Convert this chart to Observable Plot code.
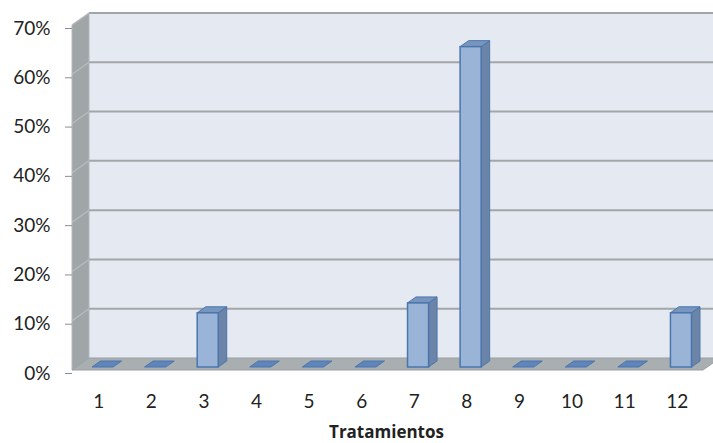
<!DOCTYPE html>
<html>
<head>
<meta charset="utf-8">
<script src="https://cdn.jsdelivr.net/npm/d3@7"></script>
<script src="https://cdn.jsdelivr.net/npm/@observablehq/plot@0.6"></script>
<style>
  html, body { margin: 0; padding: 0; background: #ffffff; }
  #chart { width: 713px; height: 443px; }
</style>
</head>
<body>
<div id="chart"></div>
<script>
// ---- data ----
const categories = [1, 2, 3, 4, 5, 6, 7, 8, 9, 10, 11, 12];
const values = [0, 0, 0.11, 0, 0, 0, 0.13, 0.65, 0, 0, 0, 0.11];
const yTicks = [0, 0.1, 0.2, 0.3, 0.4, 0.5, 0.6, 0.7];
const xLabel = "Tratamientos";

// ---- 3D style parameters ----
const DEPTH = { dx: 17, dy: -12 };   // pixel offset of the back wall
const HALF = 0.2;                     // half bar width (in band units)
const BAR_FRONT = 0.25, BAR_BACK = 0.75; // bar depth fraction

const data = categories.map((c, i) => ({ c, v: values[i] }));

// Polygon mark drawn through Plot's x/y scales: vertices are [x, y, depthFraction]
function polys(items) {
  return (index, scales) => {
    const g = d3.create("svg:g");
    for (const p of items) {
      const pts = p.pts.map(([x, y, f]) => [scales.x(x) + f * DEPTH.dx, scales.y(y) + f * DEPTH.dy]);
      g.append(p.line ? "polyline" : "polygon")
        .attr("points", pts.map(d => d.join(",")).join(" "))
        .attr("fill", p.line ? "none" : p.fill)
        .attr("stroke", p.stroke || "none")
        .attr("stroke-width", p.sw || 1)
        .attr("stroke-linejoin", "round");
    }
    return g.node();
  };
}

const x0 = 0.5, x1 = 12.5, yMax = 0.7;

const walls = polys([
  { pts: [[x0, 0, 1], [x1 + 1, 0, 1], [x1 + 1, yMax, 1], [x0, yMax, 1]], fill: "#e5e9f1" },
  { pts: [[x0, 0, 0], [x0, yMax, 0], [x0, yMax, 1], [x0, 0, 1]], fill: "#a0a5a8", stroke: "#b4b8bb", sw: 1 },
  { pts: [[x0, 0, 0], [x1, 0, 0], [x1, 0, 1], [x0, 0, 1]], fill: "#a9aeb1", stroke: "#9a9fa3", sw: 1 }
]);

const grid = polys(yTicks.filter(t => t > 0).flatMap(t => [
  { line: true, pts: [[x0, t, 1], [x1 + 1, t, 1]], stroke: "#a3a6a9", sw: 2 },
  { line: true, pts: [[x0, t, 0], [x0, t, 1]], stroke: "#b9bcbf", sw: 1.2 }
]));

const barSides = polys(data.filter(d => d.v > 0).map(d => ({
  pts: [[d.c + HALF, 0, BAR_FRONT], [d.c + HALF, d.v, BAR_FRONT], [d.c + HALF, d.v, BAR_BACK], [d.c + HALF, 0, BAR_BACK]],
  fill: "#6b84a7", stroke: "#4a76ad", sw: 1
})));

const barTops = polys(data.map(d => ({
  pts: [[d.c - HALF, d.v, BAR_FRONT], [d.c + HALF, d.v, BAR_FRONT], [d.c + HALF, d.v, BAR_BACK], [d.c - HALF, d.v, BAR_BACK]],
  fill: d.v > 0 ? "#7795bd" : "#5f85ba", stroke: "#4a76ad", sw: 1
})));

const chart = Plot.plot({
  width: 713,
  height: 443,
  marginTop: 25,
  marginBottom: 73,
  marginLeft: 72,
  marginRight: 10,
  style: { fontFamily: "Lato, 'Open Sans', sans-serif", fontSize: "19px", color: "#222", background: "#ffffff" },
  x: { domain: [x0, x1] },
  y: { domain: [0, yMax] },
  marks: [
    walls,
    grid,
    barSides,
    barTops,
    Plot.rect(data.filter(d => d.v > 0), {
      x1: d => d.c - HALF, x2: d => d.c + HALF, y1: 0, y2: "v",
      dx: BAR_FRONT * DEPTH.dx, dy: BAR_FRONT * DEPTH.dy,
      fill: "#99b4d6", stroke: "#4a76ad", strokeWidth: 1.5
    }),
    Plot.axisY({
      ticks: yTicks, tickFormat: d3.format(".0%"), tickSize: 7, tickPadding: 15,
      stroke: "#8c8f92", fill: "#222", label: null, dy: 3
    }),
    Plot.axisX({
      ticks: categories, tickFormat: d => String(d), tickSize: 0, tickPadding: 24,
      fill: "#222", label: null
    }),
    Plot.text([xLabel], {
      frameAnchor: "bottom", dy: 67, dx: -1.5, lineAnchor: "bottom",
      fontWeight: "bold", fontSize: 17, fill: "#222",
      fontFamily: "'Open Sans', sans-serif"
    })
  ]
});

document.getElementById("chart").appendChild(chart);
</script>
</body>
</html>
